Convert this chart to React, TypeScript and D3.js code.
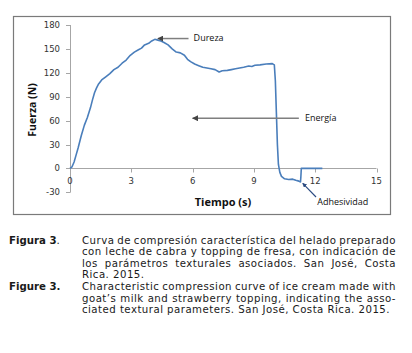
import { useEffect, useRef } from "react";
import * as d3 from "d3";

const W = 412;
const H = 353;

// compression curve: time (s) vs force (N)
const timeS = [
  0, 0.1, 0.2, 0.3, 0.4, 0.55, 0.7, 0.85, 1.0, 1.1, 1.2, 1.3, 1.4, 1.55, 1.75, 1.95,
  2.15, 2.35, 2.55, 2.75, 2.95, 3.15, 3.35, 3.5, 3.65, 3.85, 4.0, 4.15, 4.3, 4.45,
  4.6, 4.8, 5.0, 5.2, 5.4, 5.6, 5.75, 5.9, 6.1, 6.3, 6.5, 6.7, 6.9, 7.1, 7.3, 7.45,
  7.7, 7.9, 8.1, 8.3, 8.5, 8.75, 8.9, 9.05, 9.3, 9.6, 9.9, 10.0, 10.05, 10.1, 10.15,
  10.2, 10.27, 10.35, 10.5, 10.7, 10.9, 11.05, 11.2, 11.28, 11.3, 11.32, 11.5, 12.35,
];
const forceN = [
  0, 2, 8, 17, 26, 41, 54, 64, 76, 86, 95, 101, 106, 111, 115, 119,
  124, 127, 132, 136, 142, 146, 149, 151, 155, 157, 160, 162, 161, 160,
  158, 155, 150, 146, 145, 142, 137, 134, 131, 129, 127, 126, 125, 124, 121, 122.5,
  123, 124, 125, 126, 127, 128.5, 128, 129.5, 130, 131, 131.5, 130, 110, 70, 30,
  5, -5, -10, -13, -14, -13.5, -15, -16, -17, -10, 0, 0, 0,
];

const xTicks = [0, 3, 6, 9, 12, 15];
const yTicks = [-30, 0, 30, 60, 90, 120, 150, 180];

// annotations, in data units
const noteLabels = ["Dureza", "Energía", "Adhesividad"];
const noteTips: [number, number][] = [[4.3, 163], [6.0, 63], [11.39, -18.7]];
const noteTails: [number, number][] = [[5.8, 163], [11.2, 63], [12.04, -35.9]];
const noteText: [number, number][] = [[6.05, 159.5], [11.5, 59.5], [12.1, -46]];
const noteColors = ["#7f7f7f", "#7f7f7f", "#2a4a80"];

const captionLabels = ["Figura 3", "Figure 3."];
const captionEs = [
  "Curva de compresión característica del helado preparado",
  "con leche de cabra y topping de fresa, con indicación de",
  "los parámetros texturales asociados. San José, Costa",
  "Rica. 2015.",
];
const captionEn = [
  "Characteristic compression curve of ice cream made with",
  "goat’s milk and strawberry topping, indicating the asso-",
  "ciated textural parameters. San José, Costa Rica. 2015.",
];

const FRAME = { x: 13.5, y: 16.5, w: 377, h: 198 };
const CAP = { labelX: 9, textX: 82, right: 396, lastEnd: 390, top: 243.5, step: 11.6 };

export default function App() {
  const svgRef = useRef<SVGSVGElement>(null);

  useEffect(() => {
    const svg = d3.select(svgRef.current!);
    svg.selectAll("*").remove();

    const x = d3.scaleLinear().domain([0, 15]).range([70, 376.5]);
    const y = d3.scaleLinear().domain([-30, 180]).range([192.3, 25]);

    svg.append("rect").attr("width", W).attr("height", H).attr("fill", "#fff");

    // chart frame
    svg
      .append("rect")
      .attr("x", FRAME.x)
      .attr("y", FRAME.y)
      .attr("width", FRAME.w)
      .attr("height", FRAME.h)
      .attr("fill", "#fff")
      .attr("stroke", "#7a7a7a")
      .attr("stroke-width", 1.2);

    const axisColor = "#a6a6a6";

    // y axis
    svg
      .append("line")
      .attr("x1", x(0) + 0.5)
      .attr("x2", x(0) + 0.5)
      .attr("y1", y(-30))
      .attr("y2", y(180))
      .attr("stroke", axisColor);
    svg
      .append("g")
      .selectAll("line")
      .data(yTicks)
      .enter()
      .append("line")
      .attr("x1", x(0) - 4)
      .attr("x2", x(0) + 0.5)
      .attr("y1", (d) => Math.round(y(d)) + 0.5)
      .attr("y2", (d) => Math.round(y(d)) + 0.5)
      .attr("stroke", axisColor);
    svg
      .append("g")
      .selectAll("text")
      .data(yTicks)
      .enter()
      .append("text")
      .attr("x", 60)
      .attr("y", (d) => y(d))
      .attr("dy", "0.36em")
      .attr("text-anchor", "end")
      .attr("fill", "#333")
      .attr("font-family", "DejaVu Sans, sans-serif")
      .attr("font-size", 8.5)
      .text((d) => String(d));

    // x axis at zero
    svg
      .append("line")
      .attr("x1", x(0))
      .attr("x2", x(15))
      .attr("y1", Math.round(y(0)) + 0.5)
      .attr("y2", Math.round(y(0)) + 0.5)
      .attr("stroke", axisColor);
    svg
      .append("g")
      .selectAll("line")
      .data(xTicks)
      .enter()
      .append("line")
      .attr("x1", (d) => Math.round(x(d)) + 0.5)
      .attr("x2", (d) => Math.round(x(d)) + 0.5)
      .attr("y1", Math.round(y(0)) + 0.5)
      .attr("y2", Math.round(y(0)) + 4.5)
      .attr("stroke", axisColor);
    svg
      .append("g")
      .selectAll("text")
      .data(xTicks)
      .enter()
      .append("text")
      .attr("x", (d) => x(d))
      .attr("y", y(0) + 16)
      .attr("text-anchor", "middle")
      .attr("fill", "#333")
      .attr("font-family", "DejaVu Sans, sans-serif")
      .attr("font-size", 8.5)
      .text((d) => String(d));

    // axis titles
    svg
      .append("text")
      .attr("transform", `translate(36,110) rotate(-90)`)
      .attr("text-anchor", "middle")
      .attr("font-family", "Open Sans, sans-serif")
      .attr("font-weight", "bold")
      .attr("font-size", 10.5)
      .attr("fill", "#111")
      .text("Fuerza (N)");
    svg
      .append("text")
      .attr("x", 223)
      .attr("y", 206)
      .attr("text-anchor", "middle")
      .attr("font-family", "Open Sans, sans-serif")
      .attr("font-weight", "bold")
      .attr("font-size", 11)
      .attr("fill", "#111")
      .text("Tiempo (s)");

    // curve
    const pts = timeS.map((t, i) => [t, forceN[i]] as [number, number]);
    const line = d3
      .line<[number, number]>()
      .x((d) => x(d[0]))
      .y((d) => y(d[1]));
    svg
      .append("path")
      .attr("d", line(pts)!)
      .attr("fill", "none")
      .attr("stroke", "#4a7ebb")
      .attr("stroke-width", 1.6)
      .attr("stroke-linejoin", "round");

    // arrows
    const defs = svg.append("defs");
    noteColors.forEach((c, i) => {
      defs
        .append("marker")
        .attr("id", `ah${i}`)
        .attr("viewBox", "0 0 10 10")
        .attr("refX", 9)
        .attr("refY", 5)
        .attr("markerWidth", 4)
        .attr("markerHeight", 4)
        .attr("markerUnits", "strokeWidth")
        .attr("orient", "auto")
        .append("path")
        .attr("d", "M0,0 L10,5 L0,10 Z")
        .attr("fill", c === "#7f7f7f" ? "#444" : c);
    });
    noteLabels.forEach((lab, i) => {
      svg
        .append("line")
        .attr("x1", x(noteTails[i][0]))
        .attr("y1", y(noteTails[i][1]))
        .attr("x2", x(noteTips[i][0]))
        .attr("y2", y(noteTips[i][1]))
        .attr("stroke", noteColors[i])
        .attr("stroke-width", i === 2 ? 1.1 : 1.5)
        .attr("marker-end", `url(#ah${i})`);
      svg
        .append("text")
        .attr("x", x(noteText[i][0]))
        .attr("y", y(noteText[i][1]))
        .attr("font-family", "Open Sans, sans-serif")
        .attr("font-size", 9)
        .attr("fill", "#111")
        .text(lab);
    });

    // caption
    const font = "DejaVu Sans, Verdana, sans-serif";
    const cap = svg.append("g").attr("fill", "#1a1a1a").attr("font-family", font).attr("font-size", 10.2);
    const es = cap.append("text").attr("x", CAP.labelX).attr("y", CAP.top);
    es.append("tspan").attr("font-weight", "bold").text(captionLabels[0]);
    es.append("tspan").text(".");
    cap
      .append("text")
      .attr("x", CAP.labelX)
      .attr("y", CAP.top + CAP.step * captionEs.length)
      .attr("font-weight", "bold")
      .text(captionLabels[1]);

    const lines = [...captionEs, ...captionEn];
    const justify = [true, true, true, false, true, true, false];
    const texts = lines.map((txt, i) =>
      cap
        .append("text")
        .attr("x", CAP.textX)
        .attr("y", CAP.top + CAP.step * i)
        .text(txt)
    );
    // the source text is set a little wider than the font: match the last line
    const lastIdx = lines.length - 1;
    const lastNatural = (texts[lastIdx].node() as SVGTextElement).getComputedTextLength();
    const ls = (CAP.lastEnd - CAP.textX - lastNatural) / lines[lastIdx].length;
    texts.forEach((t, i) => {
      t.attr("letter-spacing", ls);
      if (justify[i]) {
        const natural = (t.node() as SVGTextElement).getComputedTextLength();
        const gaps = lines[i].split(" ").length - 1;
        if (gaps > 0) t.attr("word-spacing", (CAP.right - CAP.textX - natural) / gaps);
      }
    });
  }, []);

  return (
    <svg
      ref={svgRef}
      width={W}
      height={H}
      style={{ position: "absolute", left: 0, top: 0, display: "block" }}
    />
  );
}
